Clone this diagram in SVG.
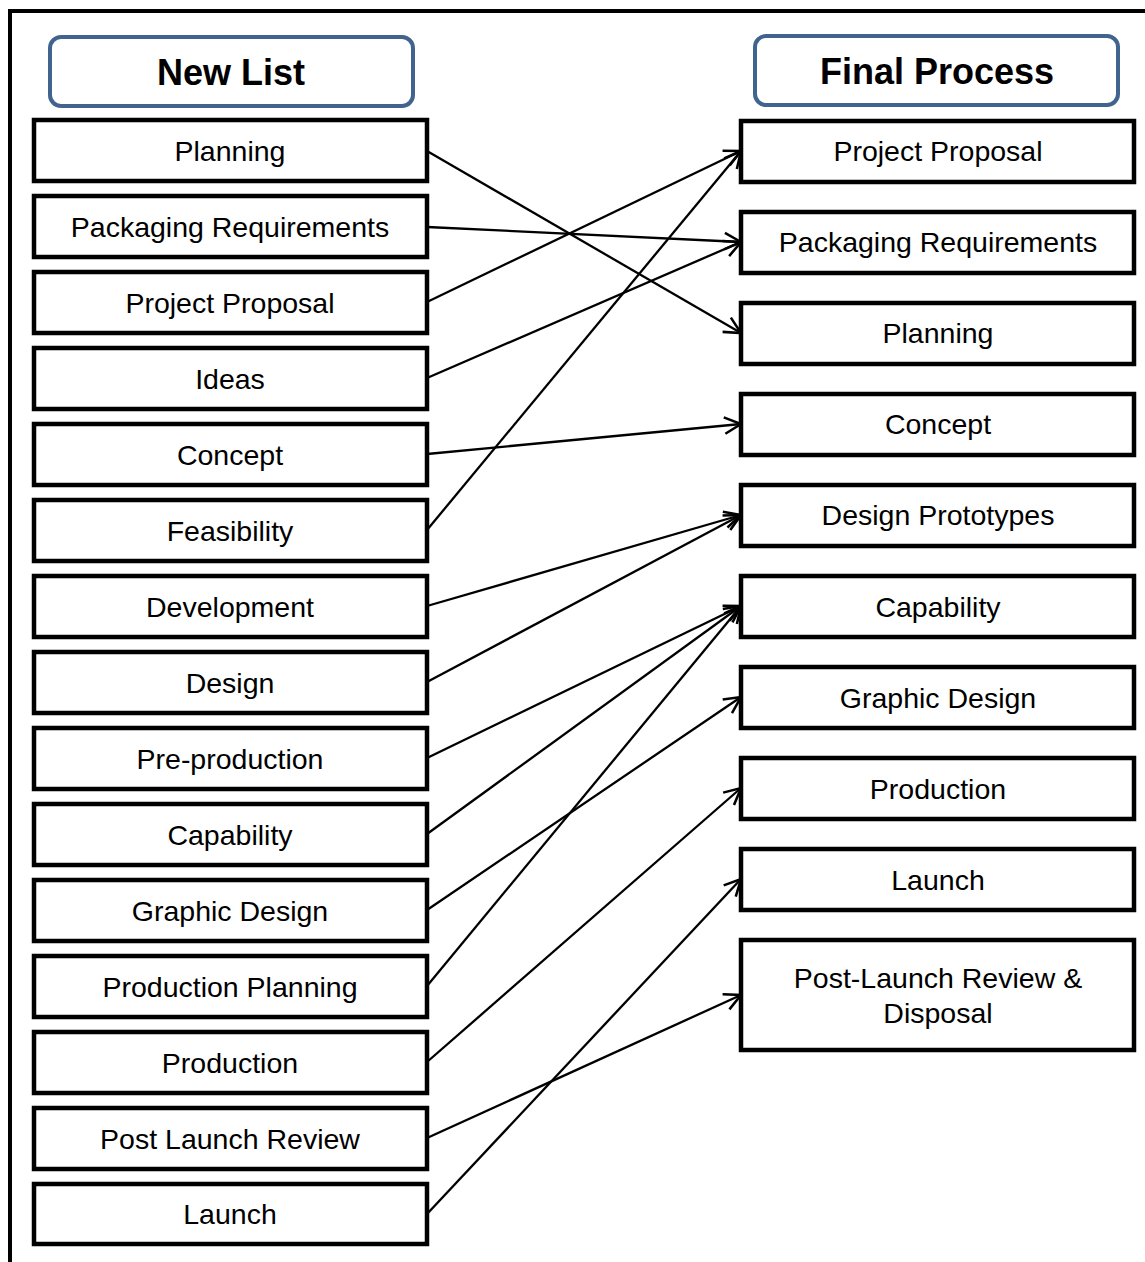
<svg xmlns="http://www.w3.org/2000/svg" width="1145" height="1262" viewBox="0 0 1145 1262">
<style>
.frame{fill:none;stroke:#000;stroke-width:4}
.hdr rect{fill:#fff;stroke:#41648f;stroke-width:4}
.hdr text{font-family:"Liberation Sans",Arial,sans-serif;font-size:36px;font-weight:bold;text-anchor:middle;fill:#000}
.node rect{fill:#fff;stroke:#000;stroke-width:4.5}
.node text{font-family:"Liberation Sans",Arial,sans-serif;font-size:28.5px;text-anchor:middle;fill:#000}
#connectors line{stroke:#000;stroke-width:2.3;fill:none;marker-end:url(#arr)}
</style>
<defs>
<marker id="arr" markerUnits="userSpaceOnUse" markerWidth="22" markerHeight="22" refX="16" refY="9" orient="auto" viewBox="0 0 20 18">
<path d="M1,1.5 L16,9 L1,16.5" fill="none" stroke="#000" stroke-width="2.3"/>
</marker>
</defs>
<rect width="1145" height="1262" fill="#fff"/>
<path class="frame" d="M10,1262 V11 H1145"/>
<g id="hdr-new" class="hdr"><rect x="50" y="37" width="363" height="69" rx="11"/><text x="231" y="85">New List</text></g>
<g id="hdr-final" class="hdr"><rect x="755" y="36" width="363" height="69" rx="11"/><text x="937" y="84">Final Process</text></g>

<g id="connectors">
<line x1="427" y1="151" x2="741" y2="333"/>
<line x1="427" y1="227" x2="741" y2="242"/>
<line x1="427" y1="302" x2="741" y2="151"/>
<line x1="427" y1="378" x2="741" y2="242"/>
<line x1="427" y1="454" x2="741" y2="424"/>
<line x1="427" y1="530" x2="741" y2="151"/>
<line x1="427" y1="606" x2="741" y2="515"/>
<line x1="427" y1="682" x2="741" y2="515"/>
<line x1="427" y1="758" x2="741" y2="606"/>
<line x1="427" y1="834" x2="741" y2="606"/>
<line x1="427" y1="910" x2="741" y2="697"/>
<line x1="427" y1="986" x2="741" y2="606"/>
<line x1="427" y1="1062" x2="741" y2="788"/>
<line x1="427" y1="1138" x2="741" y2="995"/>
<line x1="427" y1="1214" x2="741" y2="879"/>
</g>

<g id="l-planning" class="node"><rect x="34" y="120" width="393" height="61"/><text x="230" y="161">Planning</text></g>
<g id="l-packaging" class="node"><rect x="34" y="196" width="393" height="61"/><text x="230" y="237">Packaging Requirements</text></g>
<g id="l-proposal" class="node"><rect x="34" y="272" width="393" height="61"/><text x="230" y="313">Project Proposal</text></g>
<g id="l-ideas" class="node"><rect x="34" y="348" width="393" height="61"/><text x="230" y="389">Ideas</text></g>
<g id="l-concept" class="node"><rect x="34" y="424" width="393" height="61"/><text x="230" y="465">Concept</text></g>
<g id="l-feasibility" class="node"><rect x="34" y="500" width="393" height="61"/><text x="230" y="541">Feasibility</text></g>
<g id="l-development" class="node"><rect x="34" y="576" width="393" height="61"/><text x="230" y="617">Development</text></g>
<g id="l-design" class="node"><rect x="34" y="652" width="393" height="61"/><text x="230" y="693">Design</text></g>
<g id="l-preproduction" class="node"><rect x="34" y="728" width="393" height="61"/><text x="230" y="769">Pre-production</text></g>
<g id="l-capability" class="node"><rect x="34" y="804" width="393" height="61"/><text x="230" y="845">Capability</text></g>
<g id="l-graphic" class="node"><rect x="34" y="880" width="393" height="61"/><text x="230" y="921">Graphic Design</text></g>
<g id="l-prodplanning" class="node"><rect x="34" y="956" width="393" height="61"/><text x="230" y="997">Production Planning</text></g>
<g id="l-production" class="node"><rect x="34" y="1032" width="393" height="61"/><text x="230" y="1073">Production</text></g>
<g id="l-postlaunch" class="node"><rect x="34" y="1108" width="393" height="61"/><text x="230" y="1149">Post Launch Review</text></g>
<g id="l-launch" class="node"><rect x="34" y="1184" width="393" height="60"/><text x="230" y="1224">Launch</text></g>

<g id="r-proposal" class="node"><rect x="741" y="121" width="393" height="61"/><text x="938" y="161">Project Proposal</text></g>
<g id="r-packaging" class="node"><rect x="741" y="212" width="393" height="61"/><text x="938" y="252">Packaging Requirements</text></g>
<g id="r-planning" class="node"><rect x="741" y="303" width="393" height="61"/><text x="938" y="343">Planning</text></g>
<g id="r-concept" class="node"><rect x="741" y="394" width="393" height="61"/><text x="938" y="434">Concept</text></g>
<g id="r-prototypes" class="node"><rect x="741" y="485" width="393" height="61"/><text x="938" y="525">Design Prototypes</text></g>
<g id="r-capability" class="node"><rect x="741" y="576" width="393" height="61"/><text x="938" y="617">Capability</text></g>
<g id="r-graphic" class="node"><rect x="741" y="667" width="393" height="61"/><text x="938" y="708">Graphic Design</text></g>
<g id="r-production" class="node"><rect x="741" y="758" width="393" height="61"/><text x="938" y="799">Production</text></g>
<g id="r-launch" class="node"><rect x="741" y="849" width="393" height="61"/><text x="938" y="890">Launch</text></g>
<g id="r-postlaunch" class="node"><rect x="741" y="940" width="393" height="110"/><text x="938" y="988">Post-Launch Review &amp;</text><text x="938" y="1023">Disposal</text></g>
</svg>
